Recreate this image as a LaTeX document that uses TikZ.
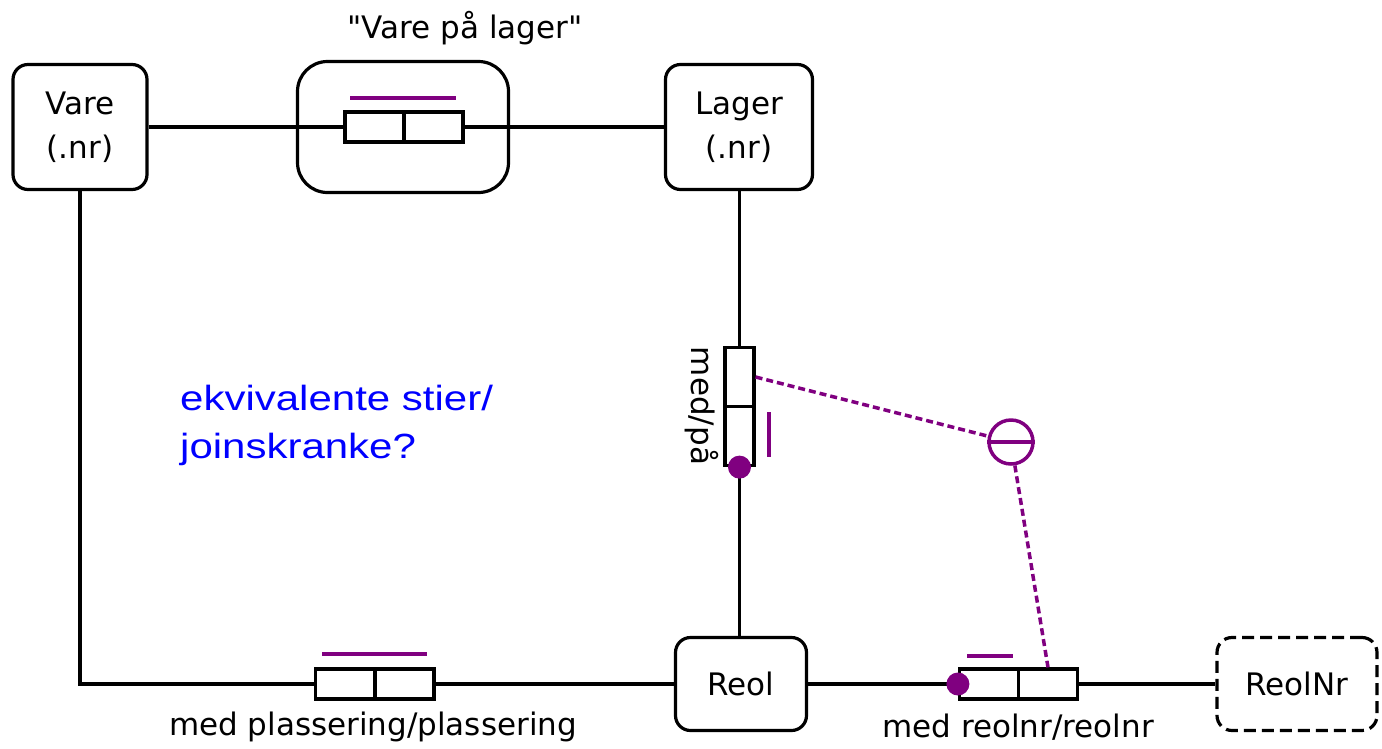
\documentclass[tikz,border=0pt]{standalone}
\usepackage{fontspec}
\setmainfont{DejaVu Sans}[Ligatures=TeXOff]
\newfontfamily\arialf{Liberation Sans}[FakeStretch=1.2]
\definecolor{orm}{HTML}{800080}
\definecolor{noteblue}{HTML}{0000FF}
\begin{document}
\begin{tikzpicture}[x=1pt,y=-1pt,
  obj/.style={draw, line width=3.2pt, rounded corners=15pt, align=center,
    font=\fontsize{31}{44}\selectfont, inner sep=0pt},
  rolebox/.style={draw, line width=3.2pt, minimum width=59pt, minimum height=30pt, inner sep=0pt},
  vrolebox/.style={draw, line width=3.2pt, minimum width=29pt, minimum height=59pt, inner sep=0pt},
  conn/.style={line width=3.2pt},
  uc/.style={orm, line width=4pt},
  mand/.style={circle, fill=orm, minimum size=23pt, inner sep=0pt},
  cdash/.style={orm, line width=3.5pt, dash pattern=on 7pt off 4pt},
  lbl/.style={font=\fontsize{31}{36}\selectfont, inner sep=0pt},
]
\useasboundingbox (0,0) rectangle (1382,748);

% object types
\node[obj, minimum width=134pt, minimum height=125pt] (vare) at (80,127) {Vare\\(.nr)};
\node[obj, minimum width=147pt, minimum height=125pt] (lager) at (739,127) {Lager\\(.nr)};
\node[obj, minimum width=131pt, minimum height=93pt] (reol) at (741,684) {Reol};
\node[obj, dashed, dash pattern=on 12pt off 6pt, minimum width=160pt, minimum height=93pt] (reolnr) at (1297,684) {ReolNr};

% objectified fact type
\node[draw, line width=3.2pt, rounded corners=30pt, minimum width=211pt, minimum height=131pt] (obfact) at (403,127) {};
\node[lbl] (obname) at (465,28) {"Vare på lager"};
\node[rolebox] (r1) at (374.5,127) {};
\node[rolebox] (r2) at (433.5,127) {};

% vertical fact type
\node[vrolebox] (v1) at (739.5,377) {};
\node[vrolebox] (v2) at (739.5,436) {};
\node[lbl, rotate=-90] (vname) at (702,406) {med/på};

% bottom left fact type
\node[rolebox] (b1) at (345,684) {};
\node[rolebox] (b2) at (404.5,684) {};
\node[lbl] (bname) at (373,727) {med plassering/plassering};

% bottom right fact type
\node[rolebox] (c1) at (989,684) {};
\node[rolebox] (c2) at (1048,684) {};
\node[lbl] (cname) at (1018,727) {med reolnr/reolnr};

% connectors
\draw[conn] (vare.east) -- (r1.west);
\draw[conn] (r2.east) -- (lager.west);
\draw[conn] (v1.north |- lager.south) -- (v1.north);
\draw[conn] (v2.south) -- (v2.south |- reol.north);
\draw[conn] (vare.south) |- (b1.west);
\draw[conn] (b2.east) -- (reol.west);
\draw[conn] (reol.east) -- (c1.west);
\draw[conn] (c2.east) -- (reolnr.west);

% uniqueness constraints
\draw[uc] (350,98) -- (456,98);
\draw[uc] (769,412) -- (769,457);
\draw[uc] (322,654) -- (427,654);
\draw[uc] (967,656) -- (1013,656);

% mandatory dots
\node[mand] (m1) at (v2.south) {};
\node[mand] (m2) at (c1.west) {};

% external constraint
\node[circle, draw=orm, line width=3.5pt, minimum size=44pt, inner sep=0pt] (eq) at (1011,442) {};
\draw[orm, line width=3.5pt] (eq.west) -- (eq.east);
\draw[cdash] (v1.east) -- (eq);
\draw[cdash] (eq) -- (c2.north);

% note
\node[anchor=north west, align=left, text=noteblue, inner sep=0pt,
  font=\arialf\fontsize{35}{48}\selectfont] (note) at (180,385) {ekvivalente stier/\\joinskranke?};
\end{tikzpicture}
\end{document}
